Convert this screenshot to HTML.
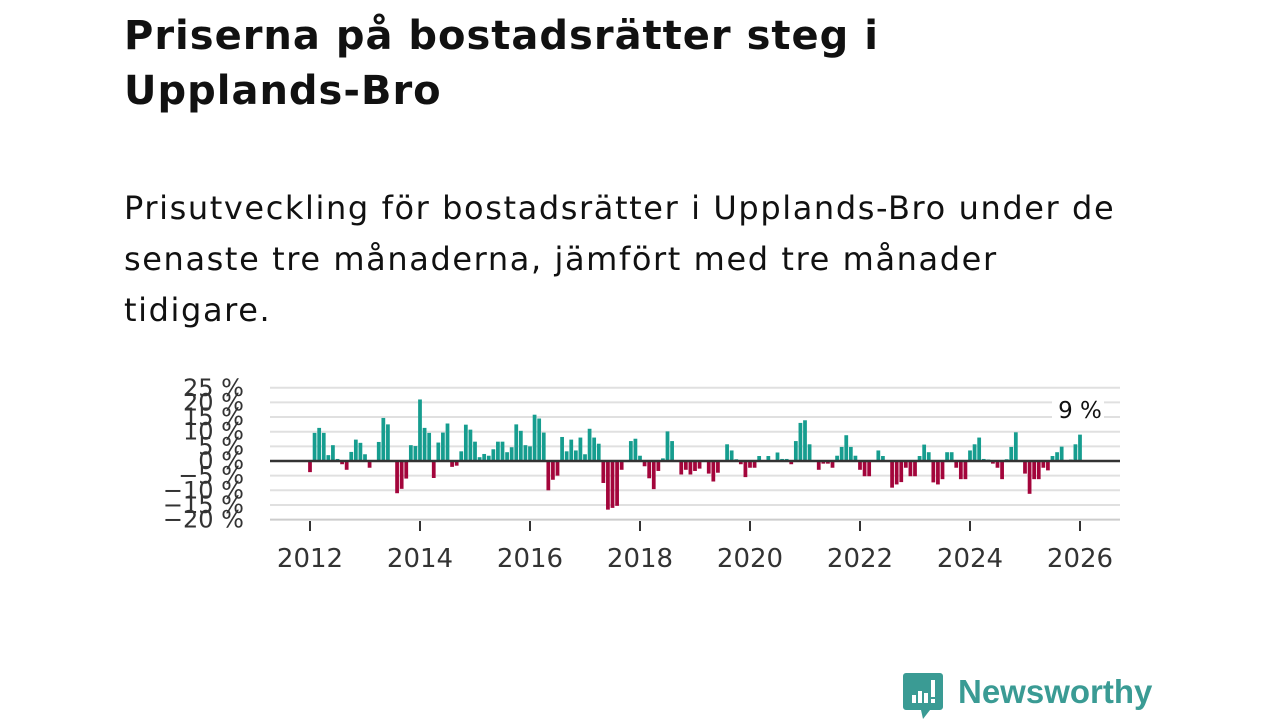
<!DOCTYPE html>
<html><head><meta charset="utf-8">
<style>
html,body{margin:0;padding:0;background:#fff;width:1280px;height:720px;overflow:hidden}
body{font-family:"DejaVu Sans","Liberation Sans",sans-serif;color:#111}
#title{position:absolute;left:124px;top:9px;font-weight:bold;font-size:40px;letter-spacing:1px;line-height:55px;margin:0;color:#111;white-space:nowrap}
#subtitle{position:absolute;left:124px;top:183px;font-size:32px;letter-spacing:1.6px;line-height:51px;margin:0;color:#111;white-space:nowrap}
#chart{position:absolute;left:0;top:0}
#logo{position:absolute;left:903px;top:671px}
</style></head>
<body>
<h1 id="title">Priserna på bostadsrätter steg i<br>Upplands-Bro</h1>
<p id="subtitle">Prisutveckling för bostadsrätter i Upplands-Bro under de<br>senaste tre månaderna, jämfört med tre månader<br>tidigare.</p>
<svg id="chart" width="1280" height="720"></svg>
<div id="logo">
<svg width="260" height="50">
<path d="M3 2 h34 a3 3 0 0 1 3 3 v31 a3 3 0 0 1 -3 3 h-10 l-7 9 l-2 -9 h-15 a3 3 0 0 1 -3 -3 v-31 a3 3 0 0 1 3 -3z" fill="#3a9b94"/>
<rect x="9" y="24" width="4" height="8" fill="#fff"/><rect x="15" y="20" width="4" height="12" fill="#fff"/><rect x="21" y="22" width="4" height="10" fill="#fff"/><rect x="28" y="9" width="4" height="17" fill="#fff"/><rect x="28" y="28" width="4" height="4" fill="#fff"/>
<text x="55" y="32" font-family="Liberation Sans, sans-serif" font-weight="bold" font-size="33" fill="#3a9b94">Newsworthy</text>
</svg></div>
<script>
const startYear = 2012;
const values = [-3.8,9.6,11.3,9.6,2,5.4,0.7,-1.1,-3,3.1,7.3,6.2,2.3,-2.3,0,6.5,14.7,12.5,0,-11,-9.5,-6,5.4,5.1,21,11.3,9.6,-5.8,6.3,9.7,12.8,-2,-1.6,3.3,12.4,10.7,6.6,1.3,2.4,1.8,4,6.6,6.6,3,4.7,12.5,10.3,5.4,5,15.8,14.5,9.7,-10,-6.4,-5,8.2,3.3,7.3,3.6,8,2.3,11,8,5.9,-7.5,-16.6,-16,-15.3,-3,0,6.8,7.6,1.8,-1.8,-5.9,-9.6,-3.4,0.9,10.1,6.8,0,-4.6,-3,-4.6,-3.4,-2.6,0,-4.3,-7,-4,0,5.7,3.6,0.6,-1.1,-5.5,-2.3,-2.3,1.7,0,1.7,0,2.9,0.7,0.7,-1.1,6.8,13,13.9,5.7,0,-3,-0.9,-0.9,-2.3,1.8,4.8,8.8,4.8,1.8,-3,-5.2,-5.2,0,3.6,1.7,0,-9.1,-8,-7.2,-2.3,-5.2,-5.2,1.7,5.6,3,-7.3,-8,-6.2,3,3,-2.3,-6.2,-6.2,3.6,5.7,8,0.7,0.5,-0.9,-2.3,-6.2,0.6,4.8,9.8,0,-4.3,-11.2,-6.2,-6.2,-2.3,-3.2,1.7,3,4.9,0,0.5,5.7,9];
const yTicks = [25,20,15,10,5,0,-5,-10,-15,-20];
const xTicks = [2012,2014,2016,2018,2020,2022,2024,2026];
const lastLabel = "9 %";

const NS="http://www.w3.org/2000/svg";
const svg=document.getElementById('chart');
const y0px=461, pxPer=2.93;
const FONT='DejaVu Sans, Liberation Sans, sans-serif';
function yS(v){return y0px - v*pxPer;}
function xS(t){return 310 + (t-2012)*55;}
function mk(tag,attrs){const e=document.createElementNS(NS,tag);for(const k in attrs)e.setAttribute(k,attrs[k]);svg.appendChild(e);return e;}

yTicks.forEach(v=>{
  if(v!==0){const g=mk('line',{x1:270,x2:1120,y1:yS(v),y2:yS(v),stroke:v===-20?'#ccc':'#e0e0e0','stroke-width':2});
  
  }
  const t=mk('text',{x:244,y:yS(v)+8,'text-anchor':'end','font-size':24,fill:'#333','font-family':FONT});
  t.textContent=(v<0?'\u2212'+(-v):v)+' %';
  
  
});
xTicks.forEach(yr=>{
  const l=mk('line',{x1:xS(yr),x2:xS(yr),y1:521,y2:531,stroke:'#333','stroke-width':2});
  
  
  const t=mk('text',{x:xS(yr),y:567,'text-anchor':'middle','font-size':26,fill:'#333','font-family':FONT});
  t.textContent=yr;
  
  
});
const bw=55/12*0.82;
values.forEach((v,i)=>{
  const cx=xS(startYear+i/12);
  const r=mk('rect',{x:cx-bw/2,y:Math.min(yS(v),y0px),width:bw,height:Math.abs(yS(v)-y0px),fill:v>=0?'#169d8f':'#a3053b'});
  
  
});
const z=mk('line',{x1:270,x2:1120,y1:y0px,y2:y0px,stroke:'#333','stroke-width':2.5});


const lastX=xS(startYear+(values.length-1)/12);
const lb=mk('rect',{x:lastX-28,y:394,width:52,height:30,fill:'#fff'});


const lt=mk('text',{x:lastX,y:418,'text-anchor':'middle','font-size':23,fill:'#111','font-family':FONT});
lt.textContent=lastLabel;


</script>
</body></html>
